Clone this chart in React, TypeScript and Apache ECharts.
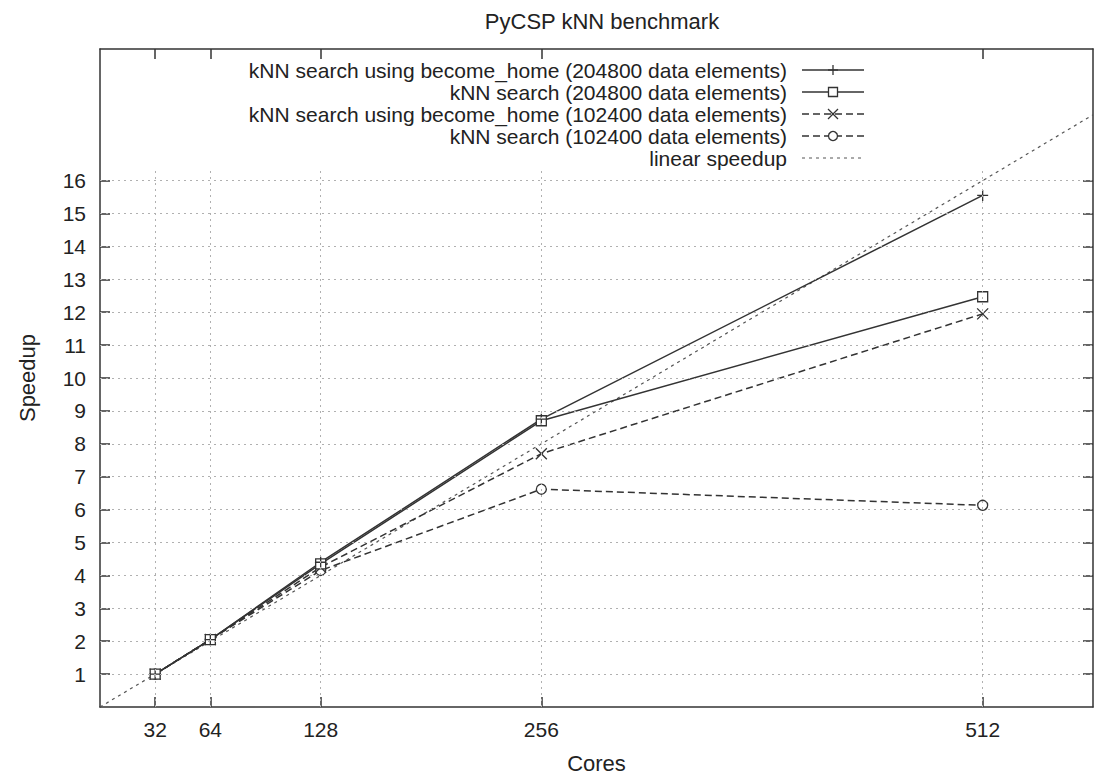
import React, { useEffect, useRef } from "react";
import * as echarts from "echarts";

const cores = [32, 64, 128, 256, 512];
const homeLarge = [1, 2.05, 4.4, 8.75, 15.55];
const plainLarge = [1, 2.05, 4.35, 8.7, 12.47];
const homeSmall = [1, 2.05, 4.25, 7.7, 11.95];
const plainSmall = [1, 2.05, 4.15, 6.62, 6.13];
const linearX = [0, 576];
const linearY = [0, 18];
const yTicks = [1, 2, 3, 4, 5, 6, 7, 8, 9, 10, 11, 12, 13, 14, 15, 16];
const seriesNames = [
  "kNN search using become_home (204800 data elements)",
  "kNN search (204800 data elements)",
  "kNN search using become_home (102400 data elements)",
  "kNN search (102400 data elements)",
  "linear speedup",
];

const FONT = "'Liberation Sans', Arial, sans-serif";
const INK = "#222";
const LINE = "#333";
const PLUS = "path://M0,5L10,5M5,0L5,10";
const CROSS = "path://M0,0L10,10M0,10L10,0";

export default function App() {
  const ref = useRef<HTMLDivElement>(null);
  useEffect(() => {
    if (!ref.current) return;
    const chart = echarts.init(ref.current, null, { renderer: "svg" });
    const pairs = (ys: number[]) => cores.map((c, i) => [c, ys[i]]);
    const gridData: any[] = [];
    cores.forEach((c) => gridData.push([{ coord: [c, 0] }, { coord: [c, 16.3] }]));
    yTicks.forEach((v) => gridData.push([{ coord: [0, v] }, { coord: [576, v] }]));

    const lineSeries = (name: string, ys: number[], dashed: boolean, symbol: string, size: number) => ({
      name,
      type: "line",
      data: pairs(ys),
      symbol,
      symbolSize: size,
      showSymbol: true,
      lineStyle: { color: LINE, width: 1.5, type: dashed ? [7, 4] : "solid" },
      itemStyle: { color: "#fff", borderColor: LINE, borderWidth: 1.3 },
      z: 3,
    });

    // legend drawn as graphic
    const rowsY = [70, 92, 114, 136, 158];
    const textRight = 787;
    const lx0 = 802, lx1 = 864, lm = 833;
    const legend: any[] = [];
    seriesNames.forEach((n, i) => {
      const y = rowsY[i];
      legend.push({
        type: "text",
        x: textRight,
        y,
        style: { text: n, font: `21px ${FONT}`, lineHeight: 21, fill: INK, align: "right", verticalAlign: "middle" },
      });
      const dash = i === 4 ? [3, 4] : i >= 2 ? [7, 4] : null;
      legend.push({
        type: "line",
        shape: { x1: lx0, y1: y, x2: lx1, y2: y },
        style: { stroke: i === 4 ? "#555" : LINE, lineWidth: i === 4 ? 1 : 1.3, lineDash: dash },
      });
      if (i === 0) {
        legend.push({ type: "line", shape: { x1: lm - 5, y1: y, x2: lm + 5, y2: y }, style: { stroke: LINE, lineWidth: 1.3 } });
        legend.push({ type: "line", shape: { x1: lm, y1: y - 5, x2: lm, y2: y + 5 }, style: { stroke: LINE, lineWidth: 1.3 } });
      } else if (i === 1) {
        legend.push({ type: "rect", shape: { x: lm - 4.5, y: y - 4.5, width: 9, height: 9 }, style: { fill: "#fff", stroke: LINE, lineWidth: 1.3 } });
      } else if (i === 2) {
        legend.push({ type: "line", shape: { x1: lm - 5, y1: y - 5, x2: lm + 5, y2: y + 5 }, style: { stroke: LINE, lineWidth: 1.3 } });
        legend.push({ type: "line", shape: { x1: lm - 5, y1: y + 5, x2: lm + 5, y2: y - 5 }, style: { stroke: LINE, lineWidth: 1.3 } });
      } else if (i === 3) {
        legend.push({ type: "circle", shape: { cx: lm, cy: y, r: 4.5 }, style: { fill: "#fff", stroke: LINE, lineWidth: 1.3 } });
      }
    });

    const axisCommon = {
      type: "value",
      axisLine: { show: true, onZero: false, lineStyle: { color: LINE, width: 1.5 } },
      splitLine: { show: false },
    };

    chart.setOption({
      animation: false,
      backgroundColor: "#fff",
      title: {
        text: "PyCSP kNN benchmark",
        left: 597,
        top: 5,
        textAlign: "center",
        textStyle: { fontFamily: FONT, fontSize: 22, fontWeight: "normal", color: INK },
      },
      grid: { left: 100, right: 1, top: 49, bottom: 69, outerBoundsMode: "none", containLabel: false },
      xAxis: [
        {
          ...axisCommon,
          position: "bottom",
          min: 0,
          max: 576,
          axisTick: { show: true, inside: true, length: 10, customValues: cores, lineStyle: { color: LINE, width: 1.5 } },
          axisLabel: { show: true, customValues: cores, fontFamily: FONT, fontSize: 21, color: INK, margin: 12 },
          name: "Cores",
          nameLocation: "middle",
          nameGap: 45,
          nameTextStyle: { fontFamily: FONT, fontSize: 22, color: INK },
        },
        {
          ...axisCommon,
          position: "top",
          min: 0,
          max: 576,
          axisTick: { show: true, inside: true, length: 10, customValues: cores, lineStyle: { color: LINE, width: 1.5 } },
          axisLabel: { show: false },
        },
      ],
      yAxis: [
        {
          ...axisCommon,
          position: "left",
          min: 0,
          max: 20,
          axisTick: { show: true, inside: true, length: 10, customValues: yTicks, lineStyle: { color: LINE, width: 1.5 } },
          axisLabel: { show: true, customValues: yTicks, fontFamily: FONT, fontSize: 21, color: INK, margin: 14 },
          name: "Speedup",
          nameLocation: "middle",
          nameGap: 62,
          nameTextStyle: { fontFamily: FONT, fontSize: 22, color: INK },
        },
        {
          ...axisCommon,
          position: "right",
          min: 0,
          max: 20,
          axisTick: { show: true, inside: true, length: 10, customValues: yTicks, lineStyle: { color: LINE, width: 1.5 } },
          axisLabel: { show: false },
        },
      ],
      series: [
        {
          type: "line",
          data: [],
          silent: true,
          markLine: {
            silent: true,
            symbol: "none",
            label: { show: false },
            lineStyle: { color: "#b0b0b0", width: 1, type: [2, 4] },
            data: gridData,
          },
          z: 1,
        },
        {
          name: seriesNames[4],
          type: "line",
          data: linearX.map((x, i) => [x, linearY[i]]),
          symbol: "none",
          lineStyle: { color: "#555", width: 1.2, type: [3, 4] },
          z: 2,
        },
        lineSeries(seriesNames[3], plainSmall, true, "circle", 10),
        lineSeries(seriesNames[2], homeSmall, true, CROSS, 11),
        lineSeries(seriesNames[1], plainLarge, false, "rect", 10),
        lineSeries(seriesNames[0], homeLarge, false, PLUS, 11),
      ],
      graphic: legend,
    });
    return () => chart.dispose();
  }, []);
  return <div ref={ref} style={{ position: "fixed", left: 0, top: 0, width: 1094, height: 776 }} />;
}
